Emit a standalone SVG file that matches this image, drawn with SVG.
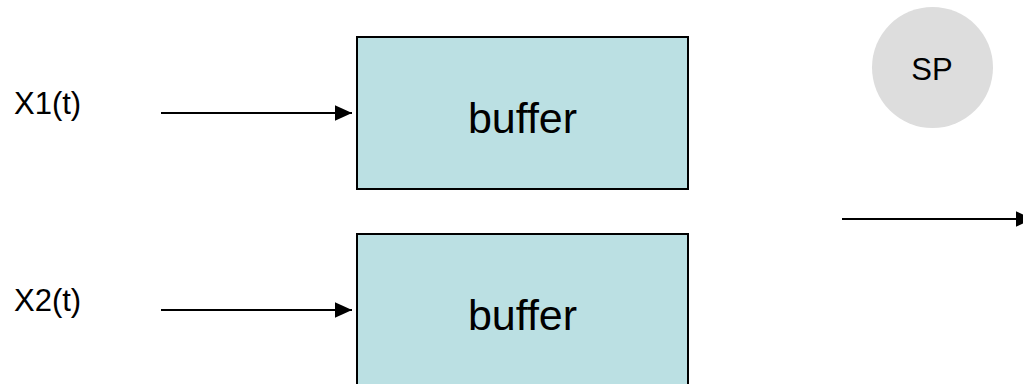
<svg xmlns="http://www.w3.org/2000/svg" width="1023" height="384" viewBox="0 0 1023 384">
  <style>
    .box { fill: #BBE0E3; stroke: #000000; stroke-width: 2; }
    .lbl { font-family: "Liberation Sans", Arial, sans-serif; fill: #000000; }
    .conn { stroke: #000000; stroke-width: 2; fill: none; marker-end: url(#arrow); }
  </style>
  <defs>
    <marker id="arrow" markerUnits="userSpaceOnUse" markerWidth="18" markerHeight="16" refX="17" refY="7.7" orient="auto">
      <path d="M0,0 L17,7.7 L0,15.4 z" fill="#000000"/>
    </marker>
  </defs>
  <rect width="1023" height="384" fill="#FFFFFF"/>
  <g id="label-x1">
    <text class="lbl" x="14" y="114" font-size="31">X1(t)</text>
  </g>
  <g id="label-x2">
    <text class="lbl" x="14" y="311" font-size="31">X2(t)</text>
  </g>
  <g id="buffer1">
    <rect class="box" x="357" y="37" width="331" height="152"/>
    <text class="lbl" x="522.5" y="133" font-size="43" text-anchor="middle">buffer</text>
  </g>
  <g id="buffer2">
    <rect class="box" x="357" y="234" width="331" height="152"/>
    <text class="lbl" x="522.5" y="330" font-size="43" text-anchor="middle">buffer</text>
  </g>
  <g id="sp">
    <circle cx="932.5" cy="67.5" r="60.5" fill="#DDDDDD"/>
    <text class="lbl" x="932" y="80" font-size="31" text-anchor="middle">SP</text>
  </g>
  <g id="connectors">
    <line class="conn" x1="161" y1="113" x2="352" y2="113"/>
    <line class="conn" x1="161" y1="310" x2="352" y2="310"/>
    <line class="conn" x1="842" y1="219" x2="1033" y2="219"/>
  </g>
</svg>
